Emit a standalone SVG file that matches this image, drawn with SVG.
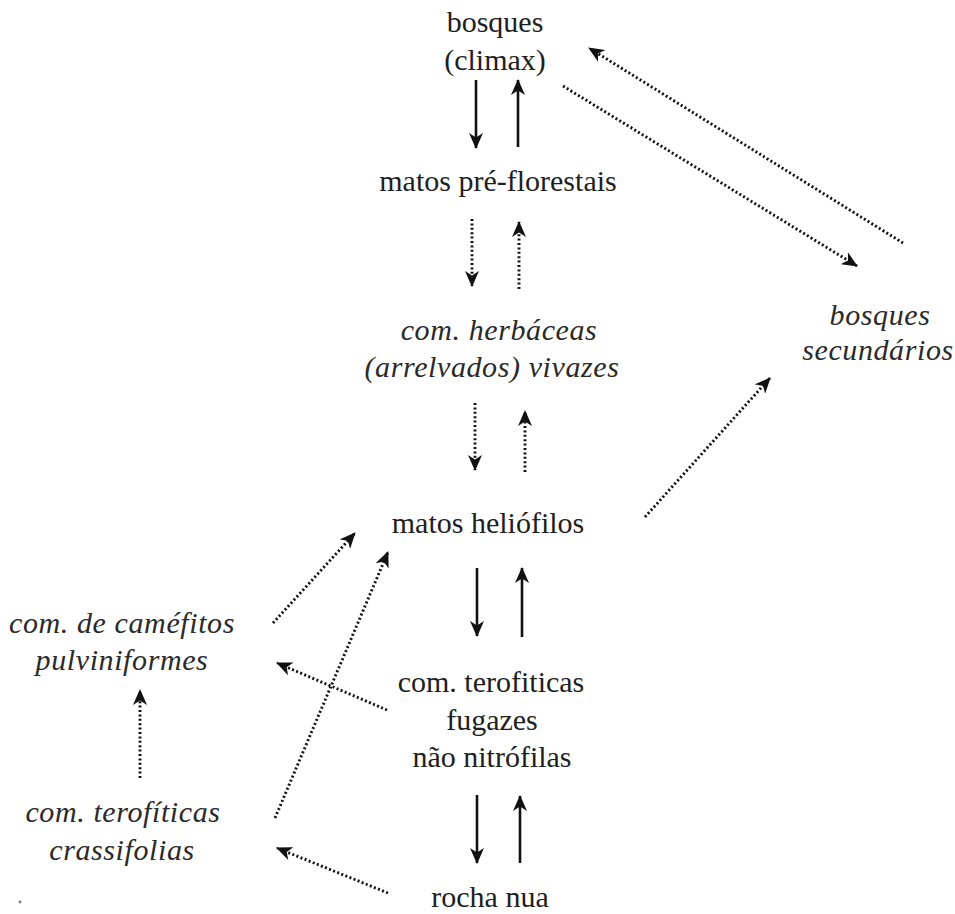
<svg xmlns="http://www.w3.org/2000/svg" width="955" height="914" viewBox="0 0 955 914">
  <style>
    .solid { stroke: #111; stroke-width: 2.6; fill: none; marker-end: url(#head); }
    .dot { stroke: #111; stroke-width: 2.9; fill: none; stroke-dasharray: 2 2.4; marker-end: url(#head); }
  </style>
  <defs>
    <marker id="head" markerUnits="userSpaceOnUse" viewBox="0 0 16 14" markerWidth="16" markerHeight="14" refX="15" refY="7" orient="auto">
      <path d="M0,0 L16,7 L0,14 L4.5,7 z" fill="#111"/>
    </marker>
  </defs>

  <rect width="955" height="914" fill="#ffffff"/>

  <!-- community stages -->
  <g font-family="'Liberation Serif', 'Times New Roman', Times, 'DejaVu Serif', serif" font-size="30" fill="#1e1e1e" text-anchor="middle">
    <g id="bosques-climax">
      <text x="495" y="32">bosques</text>
      <text x="495" y="70">(climax)</text>
    </g>
    <g id="matos-pre-florestais">
      <text x="498" y="191">matos pré-florestais</text>
    </g>
    <g id="com-herbaceas" font-style="italic" fill="#2a2a2a" letter-spacing="0.6">
      <text x="499" y="340">com. herbáceas</text>
      <text x="492" y="377">(arrelvados) vivazes</text>
    </g>
    <g id="matos-heliofilos">
      <text x="488" y="533">matos heliófilos</text>
    </g>
    <g id="com-terofiticas-fugazes">
      <text x="491" y="692">com. terofiticas</text>
      <text x="492" y="730">fugazes</text>
      <text x="492" y="767">não nitrófilas</text>
    </g>
    <g id="rocha-nua">
      <text x="490" y="907">rocha nua</text>
    </g>
    <g id="bosques-secundarios" font-style="italic" fill="#2a2a2a" letter-spacing="0.6">
      <text x="880" y="325">bosques</text>
      <text x="878" y="360">secundários</text>
    </g>
    <g id="com-camefitos" font-style="italic" fill="#2a2a2a" letter-spacing="0.6">
      <text x="122" y="633">com. de caméfitos</text>
      <text x="122" y="670">pulviniformes</text>
    </g>
    <g id="com-terofiticas-crassifolias" font-style="italic" fill="#2a2a2a" letter-spacing="0.6">
      <text x="123" y="822">com. terofíticas</text>
      <text x="122" y="860">crassifolias</text>
    </g>
  </g>
  <circle cx="20" cy="902" r="1.4" fill="#777"/>

  <!-- transitions -->
  <g id="connectors">
    <!-- climax / pre-forest scrub -->
    <line class="solid" x1="476" y1="80" x2="476" y2="148"/>
    <line class="solid" x1="518" y1="147" x2="518" y2="80"/>
    <!-- pre-forest scrub / perennial grassland -->
    <line class="dot" x1="472" y1="219" x2="472" y2="286"/>
    <line class="dot" x1="519" y1="289" x2="519" y2="222"/>
    <!-- perennial grassland / heliophilous scrub -->
    <line class="dot" x1="475" y1="403" x2="475" y2="470"/>
    <line class="dot" x1="525" y1="472" x2="525" y2="411"/>
    <!-- heliophilous scrub / ephemeral therophytes -->
    <line class="solid" x1="477" y1="568" x2="477" y2="636"/>
    <line class="solid" x1="522" y1="637" x2="522" y2="568"/>
    <!-- ephemeral therophytes / bare rock -->
    <line class="solid" x1="477" y1="795" x2="477" y2="863"/>
    <line class="solid" x1="520" y1="863" x2="520" y2="796"/>
    <!-- secondary woodland -->
    <line class="dot" x1="563" y1="86" x2="857" y2="266"/>
    <line class="dot" x1="903" y1="243" x2="589" y2="48"/>
    <line class="dot" x1="645" y1="517" x2="770" y2="378"/>
    <!-- side communities -->
    <line class="dot" x1="273" y1="623" x2="355" y2="533"/>
    <line class="dot" x1="275" y1="818" x2="388" y2="552"/>
    <line class="dot" x1="387" y1="710" x2="277" y2="663"/>
    <line class="dot" x1="388" y1="893" x2="277" y2="848"/>
    <line class="dot" x1="140" y1="778" x2="140" y2="690"/>
  </g>
</svg>
